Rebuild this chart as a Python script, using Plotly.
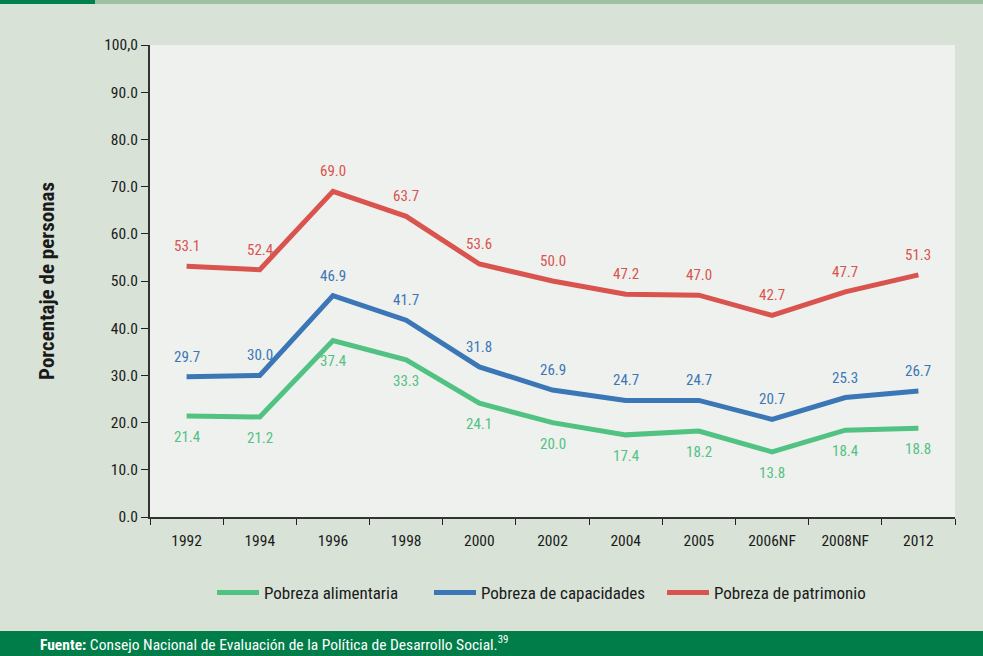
import plotly.graph_objects as go

years = ["1992", "1994", "1996", "1998", "2000", "2002", "2004", "2005", "2006NF", "2008NF", "2012"]
alimentaria = [21.4, 21.2, 37.4, 33.3, 24.1, 20.0, 17.4, 18.2, 13.8, 18.4, 18.8]
capacidades = [29.7, 30.0, 46.9, 41.7, 31.8, 26.9, 24.7, 24.7, 20.7, 25.3, 26.7]
patrimonio = [53.1, 52.4, 69.0, 63.7, 53.6, 50.0, 47.2, 47.0, 42.7, 47.7, 51.3]
ytick_vals = [0, 10, 20, 30, 40, 50, 60, 70, 80, 90, 100]
ytick_text = ["0.0", "10.0", "20.0", "30.0", "40.0", "50.0", "60.0", "70.0", "80.0", "90.0", "100,0"]

FONT = "Liberation Sans Narrow, Roboto Condensed, Open Sans Condensed, Roboto, Liberation Sans, Arial"
GREEN = "#52c283"
BLUE = "#3b77b6"
RED = "#d9534f"

W, H = 983, 656
L, R, T, B = 150, 28, 45, 139
pw, ph = W - L - R, H - T - B
def px(x): return (x - L) / pw
def py(y): return (H - B - y) / ph

fig = go.Figure()
series = [
    ("Pobreza alimentaria", alimentaria, GREEN, -21, "legend", 212),
    ("Pobreza de capacidades", capacidades, BLUE, 20, "legend2", 429),
    ("Pobreza de patrimonio", patrimonio, RED, 20, "legend3", 662),
]
annotations = []
legends = {}
for name, vals, col, shift, leg, lx in series:
    fig.add_trace(go.Scatter(x=years, y=vals, mode="lines", name=name, legend=leg,
                             line=dict(color=col, width=5)))
    legends[leg] = dict(orientation="h", x=px(lx), xanchor="left", y=py(593), yanchor="middle",
                        font=dict(size=17, family=FONT), bgcolor="rgba(0,0,0,0)", itemwidth=42)
    for i, v in enumerate(vals):
        annotations.append(dict(x=i, y=v, xref="x", yref="y", text=f"{v:.1f}", showarrow=False,
                                yshift=shift, font=dict(color=col, size=15, family=FONT)))

shapes = [
    dict(type="rect", xref="paper", yref="paper", x0=px(0), x1=px(W), y0=py(4), y1=py(0),
         fillcolor="#9fc0a2", line=dict(width=0), layer="below"),
    dict(type="rect", xref="paper", yref="paper", x0=px(0), x1=px(95), y0=py(4), y1=py(0),
         fillcolor="#00804a", line=dict(width=0), layer="below"),
    dict(type="rect", xref="paper", yref="paper", x0=px(0), x1=px(W), y0=py(H), y1=py(631),
         fillcolor="#007d48", line=dict(width=0), layer="below"),
]
annotations.append(dict(xref="paper", yref="paper", x=px(38), y=py(643), xanchor="left",
                        yanchor="middle", showarrow=False,
                        text="<b>Fuente:</b> Consejo Nacional de Evaluación de la Política de Desarrollo Social.<sup>39</sup>",
                        font=dict(color="white", size=15.5, family=FONT)))

fig.update_layout(
    width=W, height=H,
    margin=dict(l=L, r=R, t=T, b=B),
    paper_bgcolor="#d8e2d7",
    plot_bgcolor="#eff1ee",
    font=dict(family=FONT, color="#1a1a1a", size=15),
    shapes=shapes,
    annotations=annotations,
    showlegend=True,
    xaxis=dict(type="category", tickson="boundaries", ticks="outside", ticklen=6,
               tickcolor="#222", showline=True, linecolor="#333", linewidth=2,
               showgrid=False, tickfont=dict(size=15.5), range=[-0.5, 10.5],
               ticklabelstandoff=8),
    yaxis=dict(range=[0, 100], tickvals=ytick_vals, ticktext=ytick_text, ticks="outside",
               ticklen=7, tickcolor="#222", showline=True, linecolor="#333", linewidth=2,
               showgrid=False, zeroline=False, tickfont=dict(size=15.5),
               title=dict(text="<b>Porcentaje de personas</b>", font=dict(size=21), standoff=44)),
    **legends,
)
fig.write_html("out.html", config={"displayModeBar": False},
               post_script="document.body.style.margin='0';document.body.style.overflow='hidden';")
